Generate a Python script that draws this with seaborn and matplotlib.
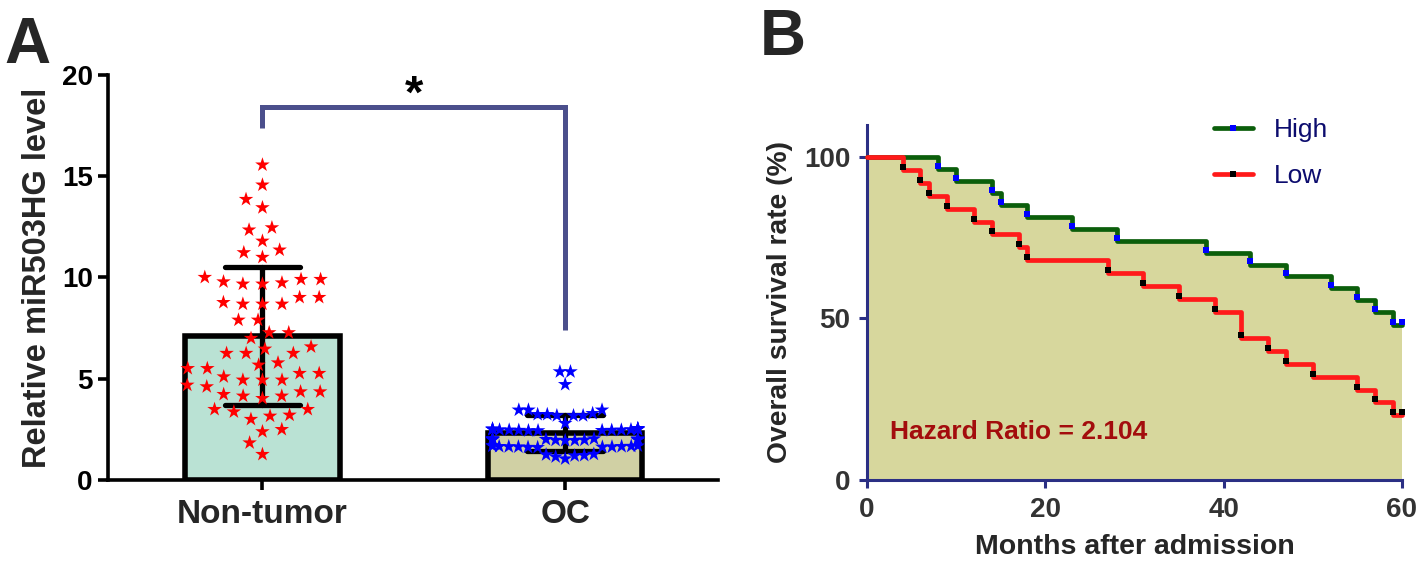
import numpy as np
import pandas as pd
import matplotlib
matplotlib.use('Agg')
import matplotlib.pyplot as plt
import matplotlib.transforms as mtransforms
from matplotlib.lines import Line2D
from matplotlib.collections import PathCollection
import seaborn as sns

# ---------------- data: panel A ----------------
groups = ['Non-tumor', 'OC']
nontumor = [15.56, 14.57, 13.86, 13.45, 12.35, 12.46, 11.80, 11.23, 11.00, 11.36,
            10.01, 9.91, 9.74, 9.68, 9.68, 9.79, 9.91,
            9.02, 8.77, 8.69, 8.69, 8.69, 9.02,
            7.90, 7.90, 7.00, 7.28, 7.28,
            6.47, 6.26, 6.26, 6.26, 6.58,
            5.68, 5.51, 5.51, 5.79,
            5.10, 4.94, 5.27, 5.27, 4.94, 4.94, 4.69,
            4.23, 4.15, 4.36, 4.36, 4.61, 4.03, 4.15,
            3.16, 3.49, 3.37, 3.00, 3.49, 3.21,
            2.50, 2.39, 1.84, 1.27]
oc = [5.35, 5.35, 4.72, 3.46, 3.46, 3.24, 3.18, 3.18, 3.18, 3.24, 3.29, 3.46, 2.80,
      2.55, 2.52, 2.50, 2.48, 2.47, 2.46, 2.45, 2.44, 2.50, 2.53, 2.49, 2.47, 2.51, 2.46, 2.44, 2.52,
      2.05, 2.02, 1.99, 1.98, 1.96, 2.00, 2.03, 1.97, 2.01, 1.95, 2.04, 1.98, 2.02, 1.99,
      1.70, 1.68, 1.66, 1.64, 1.62, 1.65, 1.67, 1.63, 1.69, 1.61, 1.66, 1.64,
      1.28, 1.25, 1.22, 1.20, 1.15, 1.05]
a_yticks = [0, 5, 10, 15, 20]
sig_label = '*'
bracket_top = 18.4
bracket_left_end = 17.4
bracket_right_end = 7.4

# ---------------- data: panel B ----------------
months_high = [0, 8, 10, 14, 15, 18, 23, 28, 38, 43, 47, 52, 55, 57, 59, 60]
surv_high = [100, 96.3, 92.6, 88.9, 85.2, 81.5, 77.8, 74.1, 70.4, 66.7, 63.0, 59.3, 55.6, 51.9, 48.1, 48.1]
months_low = [0, 4, 6, 7, 9, 12, 14, 17, 18, 27, 31, 35, 39, 42, 45, 47, 50, 55, 57, 59, 60]
surv_low = [100, 96, 92, 88, 84, 80, 76, 72, 68, 64, 60, 56, 52, 44, 40, 36, 32, 28, 24, 20, 20]
b_xticks = [0, 20, 40, 60]
b_yticks = [0, 50, 100]
series_labels = ['High', 'Low']
hazard_text = 'Hazard Ratio = 2.104'

# ---------------- style ----------------
sns.set_theme(style='ticks')
plt.rcParams['font.family'] = ['Liberation Sans', 'DejaVu Sans']
plt.rcParams['font.weight'] = 'bold'
plt.rcParams['axes.labelweight'] = 'bold'

fig = plt.figure(figsize=(14.18, 5.65), dpi=100)
axA = fig.add_axes([0.0762, 0.1504, 0.4302, 0.717])
axB = fig.add_axes([0.6114, 0.1504, 0.3773, 0.629])

# ---------------- panel A ----------------
df = pd.DataFrame({'group': ['Non-tumor'] * len(nontumor) + ['OC'] * len(oc),
                   'value': nontumor + oc})
sns.barplot(data=df, x='group', y='value', hue='group', order=groups, hue_order=groups,
            palette=['#b3e9d6', '#d7d79d'], errorbar='sd', capsize=0.25, width=0.51,
            edgecolor='black', linewidth=4, err_kws={'color': 'black', 'linewidth': 3.8},
            legend=False, ax=axA)
n_before = len(axA.collections)
sns.swarmplot(data=df, x='group', y='value', hue='group', order=groups, hue_order=groups,
              palette=['#ff0000', '#0000ff'], marker='*', size=11,
              legend=False, ax=axA, zorder=4, warn_thresh=1)

axA.set_xlim(-0.51, 1.505)
axA.set_ylim(0, 20)
axA.set_yticks(a_yticks)
axA.set_xlabel('')
axA.set_ylabel('Relative miR503HG level', fontsize=23.5, fontweight='bold', labelpad=6)
for s in ['top', 'right']:
    axA.spines[s].set_visible(False)
for s in ['left', 'bottom']:
    axA.spines[s].set_linewidth(2.6)
    axA.spines[s].set_color('black')
axA.tick_params(axis='both', direction='out', length=7, width=2.6, color='black')
axA.tick_params(axis='y', labelsize=20, labelcolor='black', pad=4)
axA.tick_params(axis='x', labelsize=24, labelcolor='#262626', pad=7)
for t in axA.get_xticklabels() + axA.get_yticklabels():
    t.set_fontweight('bold')

axA.plot([0, 0, 1, 1], [bracket_left_end, bracket_top, bracket_top, bracket_right_end],
         color='#4b4f8c', lw=3.6, solid_joinstyle='miter', solid_capstyle='butt', clip_on=False)
axA.text(0.5, bracket_top - 0.5, sig_label, ha='center', va='bottom', fontsize=34,
         fontweight='bold', color='black')

# ---------------- panel B ----------------
fill_color = '#d7d79d'
axB.fill_between(months_high, surv_high, step='post', color=fill_color, lw=0, zorder=1)
sns.lineplot(x=months_high, y=surv_high, drawstyle='steps-post', color='#0b5e0b', lw=3.4,
             estimator=None, sort=False, ax=axB, zorder=3, clip_on=False)
sns.lineplot(x=months_low, y=surv_low, drawstyle='steps-post', color='#ff1a1a', lw=3.4,
             estimator=None, sort=False, ax=axB, zorder=3, clip_on=False)
trans_up = mtransforms.offset_copy(axB.transData, fig=fig, y=2.2, units='points')
sns.scatterplot(x=months_high[1:], y=surv_high[1:], marker='s', color='#0000ff', s=18,
                linewidth=0, ax=axB, zorder=5, transform=trans_up, clip_on=False)
sns.scatterplot(x=months_low[1:], y=surv_low[1:], marker='s', color='black', s=18,
                linewidth=0, ax=axB, zorder=5, transform=trans_up, clip_on=False)

axB.set_xlim(0, 60)
axB.set_ylim(0, 110)
axB.set_xticks(b_xticks)
axB.set_yticks(b_yticks)
axB.set_xlabel('Months after admission', fontsize=20.5, fontweight='bold', labelpad=8)
axB.set_ylabel('Overall survival rate (%)', fontsize=20.3, fontweight='bold', labelpad=8)
navy = '#2b2f84'
for s in ['top', 'right']:
    axB.spines[s].set_visible(False)
for s in ['left', 'bottom']:
    axB.spines[s].set_linewidth(2.2)
    axB.spines[s].set_color(navy)
axB.tick_params(axis='both', direction='out', length=6, width=2.2, color=navy,
                labelsize=20, labelcolor='#333333', pad=6)
for t in axB.get_xticklabels() + axB.get_yticklabels():
    t.set_fontweight('bold')

axB.text(2.6, 15, hazard_text, color='#a30d0d', fontsize=19, fontweight='bold', va='center')

handles = [Line2D([], [], color='#0b5e0b', lw=3.4, marker='s', markersize=4.5,
                  markerfacecolor='#0000ff', markeredgewidth=0),
           Line2D([], [], color='#ff1a1a', lw=3.4, marker='s', markersize=4.5,
                  markerfacecolor='black', markeredgewidth=0)]
leg = axB.legend(handles, series_labels, loc='upper left', bbox_to_anchor=(0.628, 1.049),
                 frameon=False, handlelength=1.5, handletextpad=0.8, labelspacing=0.85,
                 borderaxespad=0, prop={'size': 19, 'weight': 'normal'})
for t in leg.get_texts():
    t.set_color('#0c0c6e')

# ---------------- panel letters ----------------
fig.text(27 / 1418, 1 - 46 / 565, 'A', fontsize=46, fontweight='bold', ha='center', va='center')
fig.text(783 / 1418, 1 - 38 / 565, 'B', fontsize=46, fontweight='bold', ha='center', va='center')

# seaborn lays out the swarm at draw time; draw once, then widen/narrow each swarm
fig.canvas.draw()
spread = [1.22, 0.6]
for coll in axA.collections[n_before:]:
    if isinstance(coll, PathCollection):
        off = np.asarray(coll.get_offsets())
        if len(off) == 0:
            continue
        if 'draw' in coll.__dict__:
            del coll.draw
        center = np.round(np.mean(off[:, 0]))
        k = spread[int(center)]
        coll.set_offsets(np.column_stack([center + (off[:, 0] - center) * k, off[:, 1]]))

fig.savefig('out.png', dpi=100)
